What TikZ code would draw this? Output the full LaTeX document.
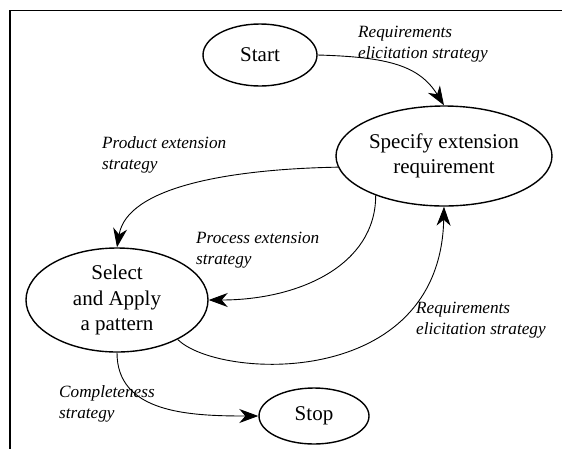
\documentclass[tikz,border=0pt]{standalone}
\usepackage{fontspec}
\setmainfont{Liberation Serif}
\usetikzlibrary{arrows.meta,shapes.geometric}
\begin{document}
\begin{tikzpicture}[x=1pt,y=-1pt,
  state/.style={draw,ellipse,line width=1.4pt,inner sep=0pt,align=center,
    font=\fontsize{21}{25.5}\selectfont},
  lbl/.style={font=\itshape\fontsize{17.2}{21}\selectfont,align=left,anchor=base west,inner sep=0pt},
  conn/.style={line width=0.9pt,-{Stealth[length=19pt,width=14pt,inset=6pt]}},
  frame/.style={line width=1.4pt}]
\useasboundingbox (0,0) rectangle (562,448);
\coordinate (f1) at (10,10.5);
\coordinate (f2) at (565,10.5);
\coordinate (f3) at (10,451);
\draw[frame] (f2) -- (f1) -- (f3);

\node[state,minimum width=114pt,minimum height=62pt] (start) at (260,55) {Start};
\node[state,minimum width=216pt,minimum height=100pt] (spec) at (444,156) {Specify extension\\requirement};
\node[state,minimum width=182pt,minimum height=104pt] (sel) at (117,300) {Select\\and Apply\\a pattern};
\node[state,minimum width=110pt,minimum height=56pt] (stop) at (314,416) {Stop};

\node[lbl] (l1) at (358,58.5) {Requirements\\elicitation strategy};
\node[lbl] (l2) at (102,169) {Product extension\\strategy};
\node[lbl] (l3) at (196,264) {Process extension\\strategy};
\node[lbl] (l4) at (416,334) {Requirements\\elicitation strategy};
\node[lbl] (l5) at (59,418) {Completeness\\strategy};

\draw[conn] (start.east) .. controls +(70,2) and +(-25,-40) .. (spec.north);
\draw[conn] (spec.186) .. controls +(-110,2) and +(10,-60) .. (sel.north);
\draw[conn] (spec.210) .. controls +(0,70) and +(90,0) .. (sel.east);
\draw[conn] (sel.-33) .. controls +(40,40) and +(-4,184) .. (spec.south);
\draw[conn] (sel.south) .. controls +(0,60) and +(-70,0) .. (stop.west);
\end{tikzpicture}
\end{document}
